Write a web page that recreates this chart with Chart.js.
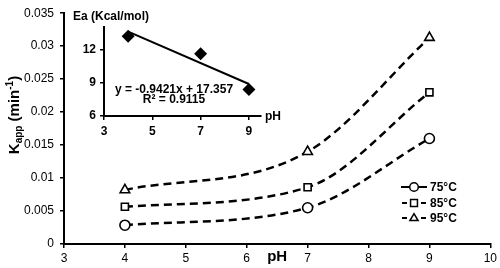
<!DOCTYPE html>
<html><head><meta charset="utf-8">
<script src="https://cdn.jsdelivr.net/npm/chart.js@4/dist/chart.umd.min.js"></script>
<style>
html,body{margin:0;padding:0;background:#fff;}
#wrap{position:relative;width:500px;height:268px;overflow:hidden;}
#main{position:absolute;left:0;top:0;}
#inset{position:absolute;left:50px;top:0;}
</style></head><body>
<div id="wrap"><canvas id="main" width="500" height="268"></canvas><canvas id="inset" width="240" height="135"></canvas></div>
<script>
// ---- data: main chart ----
const pH = [4, 7, 9];
const k75 = [0.00285, 0.0055, 0.016];
const k85 = [0.00565, 0.0086, 0.023];
const k95 = [0.0082, 0.014, 0.0313];
const seriesLabels = ['75°C', '85°C', '95°C'];
const xTicks = [3, 4, 5, 6, 7, 8, 9, 10];
const yTicks = [0, 0.005, 0.01, 0.015, 0.02, 0.025, 0.03, 0.035];
// ---- data: inset ----
const eaPH = [4, 7, 9];
const eaVals = [13.17, 11.6, 8.39];
const trendPH = [4, 9];
const trendEa = [13.59, 8.88];
const insetXTicks = [3, 5, 7, 9];
const insetYTicks = [6, 9, 12];
const eqLines = ['y = -0.9421x + 17.357', 'R² = 0.9115'];

const FONT = '"Liberation Sans", Arial, Helvetica, sans-serif';
Chart.defaults.font.family = FONT;
Chart.defaults.color = '#000';

const pts = (xs, ys) => xs.map((x, i) => ({x: x, y: ys[i]}));
const styles = ['circle', 'rect', 'triangle'];
const seriesVals = [k75, k85, k95];

const mainDatasets = seriesVals.map((vals, i) => ({
  label: seriesLabels[i],
  data: pts(pH, vals),
  borderColor: '#000',
  borderWidth: 2.5,
  borderDash: [8, 5],
  cubicInterpolationMode: 'monotone',
  pointStyle: styles[i],
  pointRadius: i === 2 ? 5.5 : 5,
  pointBorderWidth: 1.6,
  pointBackgroundColor: '#fff',
  pointBorderColor: '#000',
  clip: false
}));

function drawMarker(ctx, style, x, y, r) {
  ctx.beginPath();
  if (style === 'circle') {
    ctx.arc(x, y, r, 0, Math.PI * 2);
  } else if (style === 'rect') {
    ctx.rect(x - r * 0.8, y - r * 0.8, r * 1.6, r * 1.6);
  } else {
    ctx.moveTo(x, y - r);
    ctx.lineTo(x + r * 0.95, y + r * 0.6);
    ctx.lineTo(x - r * 0.95, y + r * 0.6);
    ctx.closePath();
  }
  ctx.fillStyle = '#fff';
  ctx.fill();
  ctx.lineWidth = 1.5;
  ctx.strokeStyle = '#000';
  ctx.stroke();
}

const mainText = {
  id: 'mainText',
  afterDraw(chart) {
    const ctx = chart.ctx;
    ctx.save();
    // y title with subscript / superscript
    ctx.translate(15, 115);
    ctx.rotate(-Math.PI / 2);
    const pieces = [['K', 15, 0], ['app', 10, 4], [' (min', 15, 0], ['-1', 10, -5], [')', 15, 0]];
    let total = 0;
    pieces.forEach(p => { ctx.font = 'bold ' + p[1] + 'px ' + FONT; total += ctx.measureText(p[0]).width; });
    let cx = -total / 2;
    ctx.fillStyle = '#000';
    ctx.textBaseline = 'middle';
    ctx.textAlign = 'left';
    pieces.forEach(p => {
      ctx.font = 'bold ' + p[1] + 'px ' + FONT;
      ctx.fillText(p[0], cx, p[2]);
      cx += ctx.measureText(p[0]).width;
    });
    ctx.restore();
    // x title
    ctx.save();
    ctx.font = 'bold 15px ' + FONT;
    ctx.fillStyle = '#000';
    ctx.textAlign = 'center';
    ctx.textBaseline = 'middle';
    ctx.fillText('pH', (chart.chartArea.left + chart.chartArea.right) / 2, 257);
    ctx.restore();
    // legend
    ctx.save();
    const rowsY = [187, 203, 218];
    chart.data.datasets.forEach((ds, i) => {
      const y = rowsY[i];
      ctx.strokeStyle = '#000';
      ctx.lineWidth = 2;
      ctx.setLineDash([]);
      ctx.beginPath();
      if (i === 0) { ctx.moveTo(401, y); ctx.lineTo(427, y); }
      else { ctx.moveTo(402, y); ctx.lineTo(407, y); ctx.moveTo(421, y); ctx.lineTo(426, y); }
      ctx.stroke();
      drawMarker(ctx, ds.pointStyle, 414, y, 4.3);
      ctx.font = 'bold 12px ' + FONT;
      ctx.fillStyle = '#000';
      ctx.textAlign = 'left';
      ctx.textBaseline = 'middle';
      ctx.fillText(ds.label, 430, y + 0.5);
    });
    ctx.restore();
  }
};

new Chart(document.getElementById('main'), {
  type: 'line',
  data: { datasets: mainDatasets },
  options: {
    responsive: false,
    animation: false,
    devicePixelRatio: 1,
    layout: { padding: { left: 0, right: 8, top: 7, bottom: 0 } },
    plugins: { legend: { display: false }, tooltip: { enabled: false } },
    scales: {
      x: {
        type: 'linear', min: 3, max: 10,
        afterBuildTicks: s => { s.ticks = xTicks.map(v => ({value: v})); },
        ticks: { font: { size: 12 }, color: '#000', padding: 3 },
        grid: { display: true, drawOnChartArea: false, drawTicks: true, tickLength: 4, color: '#000', lineWidth: 1.5 },
        border: { display: true, color: '#000', width: 2 },
        afterFit: s => { s.height = 24; }
      },
      y: {
        type: 'linear', min: 0, max: 0.035,
        afterBuildTicks: s => { s.ticks = yTicks.map(v => ({value: v})); },
        ticks: { font: { size: 12 }, color: '#000', padding: 6, callback: v => String(parseFloat(Number(v).toFixed(3))) },
        grid: { display: true, drawOnChartArea: false, drawTicks: true, tickLength: 4, color: '#000', lineWidth: 1.5 },
        border: { display: true, color: '#000', width: 2 },
        afterFit: s => { s.width = 64; }
      }
    }
  },
  plugins: [mainText]
});

// ---- inset ----
const insetText = {
  id: 'insetText',
  afterDraw(chart) {
    const ctx = chart.ctx;
    ctx.save();
    ctx.fillStyle = '#000';
    ctx.font = 'bold 12px ' + FONT;
    ctx.textBaseline = 'middle';
    ctx.textAlign = 'left';
    ctx.fillText('Ea (Kcal/mol)', 23, 17);
    ctx.fillText('pH', chart.chartArea.right + 4, 116.5);
    ctx.textAlign = 'center';
    ctx.fillText(eqLines[0], 124, 89.5);
    ctx.fillText(eqLines[1], 124, 99.5);
    ctx.restore();
  }
};

new Chart(document.getElementById('inset'), {
  type: 'scatter',
  data: {
    datasets: [
      {
        label: 'trend', type: 'line', data: pts(trendPH, trendEa),
        borderColor: '#000', borderWidth: 2, pointRadius: 0, fill: false
      },
      {
        label: 'Ea', data: pts(eaPH, eaVals),
        pointStyle: 'rectRot', pointRadius: 6.5, pointBackgroundColor: '#000', pointBorderColor: '#000',
        pointBorderWidth: 0, showLine: false, clip: false
      }
    ]
  },
  options: {
    responsive: false,
    animation: false,
    devicePixelRatio: 1,
    layout: { padding: { left: 0, right: 29, top: 27, bottom: 0 } },
    plugins: { legend: { display: false }, tooltip: { enabled: false } },
    scales: {
      x: {
        type: 'linear', min: 3, max: 9.5,
        afterBuildTicks: s => { s.ticks = insetXTicks.map(v => ({value: v})); },
        ticks: { font: { size: 12, weight: 'bold' }, color: '#000', padding: 4 },
        grid: { display: true, drawOnChartArea: false, drawTicks: true, tickLength: 4, color: '#000', lineWidth: 1.5 },
        border: { display: true, color: '#000', width: 2 },
        afterFit: s => { s.height = 19; }
      },
      y: {
        type: 'linear', min: 6, max: 14,
        afterBuildTicks: s => { s.ticks = insetYTicks.map(v => ({value: v})); },
        ticks: { font: { size: 12, weight: 'bold' }, color: '#000', padding: 4 },
        grid: { display: true, drawOnChartArea: false, drawTicks: true, tickLength: 4, color: '#000', lineWidth: 1.5 },
        border: { display: true, color: '#000', width: 2 },
        afterFit: s => { s.width = 54; }
      }
    }
  },
  plugins: [insetText]
});
</script>
</body></html>
